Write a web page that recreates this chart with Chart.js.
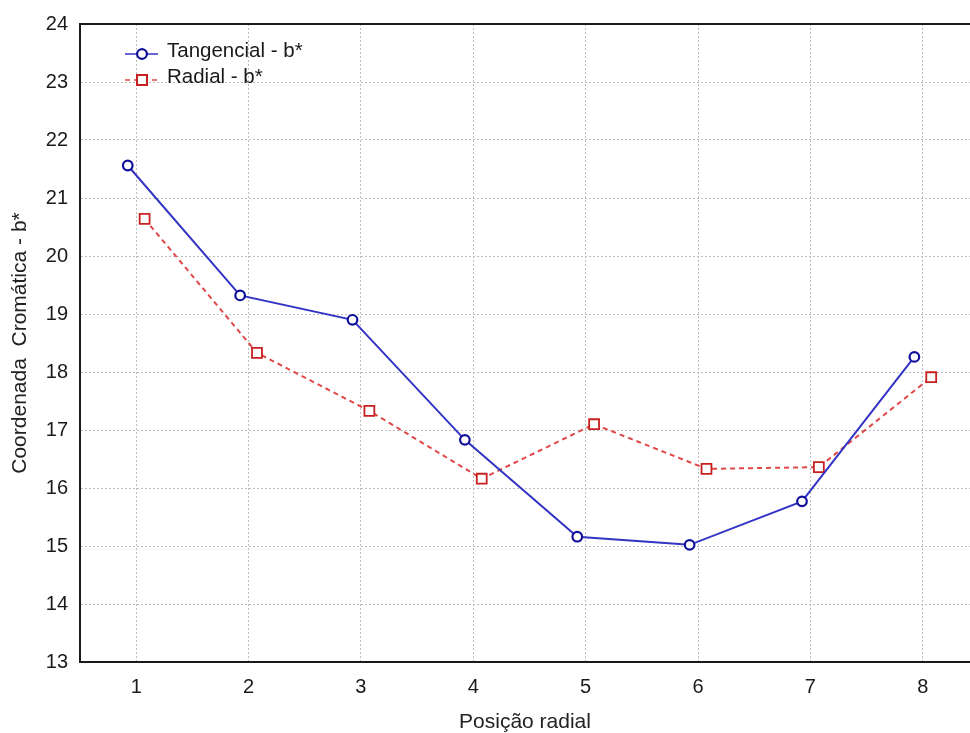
<!DOCTYPE html>
<html>
<head>
<meta charset="utf-8">
<script src="https://cdn.jsdelivr.net/npm/chart.js@4"></script>
<style>
  body { margin: 0; background: #fff; }
  canvas { display: block; }
</style>
</head>
<body>
<canvas id="chart" width="970" height="733"></canvas>
<script>
// posições radiais (eixo x)
const positions = [1, 2, 3, 4, 5, 6, 7, 8];
// coordenada b*
const tangencial = [21.56, 19.32, 18.90, 16.83, 15.16, 15.02, 15.77, 18.26];
const radial = [20.64, 18.33, 17.33, 16.16, 17.10, 16.33, 16.36, 17.91];
const yTicks = [13, 14, 15, 16, 17, 18, 19, 20, 21, 22, 23, 24];

const seriesNames = ['Tangencial - b*', 'Radial - b*'];
const shift = 0.075; // deslocamento lateral dos pontos de cada série

const font = "'Liberation Sans', Arial, sans-serif";
const blue = '#3434c4';
const blueMark = '#10109a';
const red = '#e04848';
const redMark = '#c82020';

const frame = {
    id: 'frame',
    afterDraw(chart) {
        const c = chart.ctx, a = chart.chartArea;
        c.save();
        c.strokeStyle = '#1a1a1a';
        c.lineWidth = 2;
        c.beginPath();
        c.moveTo(a.left, a.top);
        c.lineTo(a.right + 2, a.top);
        c.stroke();

        // legenda dentro da área do gráfico
        const items = [
            { text: seriesNames[0], line: blue, mark: blueMark, dash: [], style: 'circle', r: 4.8, y: 54 },
            { text: seriesNames[1], line: red, mark: redMark, dash: [5, 4], style: 'rect', r: 7, y: 80 }
        ];
        items.forEach(it => {
            c.setLineDash(it.dash);
            c.strokeStyle = it.line;
            c.lineWidth = 1.6;
            c.beginPath();
            c.moveTo(125, it.y);
            c.lineTo(158, it.y);
            c.stroke();
            c.setLineDash([]);
            c.fillStyle = '#fff';
            c.strokeStyle = it.mark;
            c.lineWidth = 2;
            Chart.helpers.drawPoint(c, { pointStyle: it.style, radius: it.r, rotation: 0, borderWidth: 2 }, 142, it.y);
            c.fill();
            c.stroke();
            c.fillStyle = '#1a1a1a';
            c.font = '20.5px ' + font;
            c.textBaseline = 'middle';
            c.fillText(it.text, 167, it.y - 3);
        });
        c.restore();
    }
};

const ctx = document.querySelector('#chart');

const chart = new Chart(ctx.getContext('2d'), {
    type: 'line',
    data: {
        datasets: [
            {
                label: seriesNames[0],
                data: positions.map((p, i) => ({ x: p - shift, y: tangencial[i] })),
                borderColor: blue,
                borderWidth: 2,
                pointStyle: 'circle',
                pointRadius: 4.8,
                pointBorderWidth: 2.2,
                pointBorderColor: blueMark,
                pointBackgroundColor: '#fff',
                tension: 0
            },
            {
                label: seriesNames[1],
                data: positions.map((p, i) => ({ x: p + shift, y: radial[i] })),
                borderColor: red,
                borderWidth: 2,
                borderDash: [5, 4],
                pointStyle: 'rect',
                pointRadius: 7,
                pointBorderWidth: 1.8,
                pointBorderColor: redMark,
                pointBackgroundColor: '#fff',
                tension: 0
            }
        ]
    },
    options: {
        responsive: false,
        animation: false,
        layout: { autoPadding: false, padding: { top: 22, right: 0, bottom: 0, left: 0 } },
        plugins: {
            legend: { display: false },
            tooltip: { enabled: false }
        },
        scales: {
            x: {
                type: 'linear',
                min: 0.5,
                max: 8.42,
                afterBuildTicks: scale => { scale.ticks = positions.map(v => ({ value: v })); },
                afterFit: scale => {
                    scale.height = 71;
                    scale.paddingLeft = 0;
                    scale.paddingRight = 0;
                },
                grid: { color: '#bdbdbd', lineWidth: 1, drawTicks: false },
                border: { color: '#1a1a1a', width: 2, dash: [2, 2] },
                ticks: { padding: 13, color: '#1a1a1a', font: { family: font, size: 20 } },
                title: {
                    display: true,
                    text: 'Posição radial',
                    color: '#222',
                    font: { family: font, size: 21 },
                    padding: { top: 0, bottom: -2 }
                }
            },
            y: {
                min: 13,
                max: 24,
                afterBuildTicks: scale => { scale.ticks = yTicks.map(v => ({ value: v })); },
                afterFit: scale => { scale.width = 80; },
                grid: { color: '#bdbdbd', lineWidth: 1, drawTicks: false },
                border: { color: '#1a1a1a', width: 2, dash: [2, 2] },
                ticks: { padding: 12, color: '#1a1a1a', font: { family: font, size: 20 } },
                title: {
                    display: true,
                    text: 'Coordenada  Cromática - b*',
                    color: '#222',
                    font: { family: font, size: 21 },
                    padding: { top: 8, bottom: 0 }
                }
            }
        }
    },
    plugins: [frame]
});
</script>
</body>
</html>
